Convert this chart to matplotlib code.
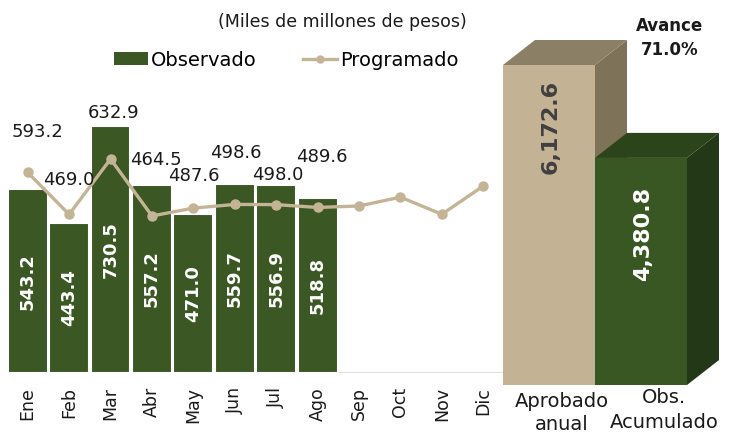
import matplotlib
matplotlib.use("Agg")
import matplotlib.pyplot as plt
from matplotlib.patches import Polygon, Patch
from matplotlib.lines import Line2D

# ===== DATOS =====
MESES = ["Ene", "Feb", "Mar", "Abr", "May", "Jun", "Jul", "Ago", "Sep", "Oct", "Nov", "Dic"]
OBSERVADO = [543.2, 443.4, 730.5, 557.2, 471.0, 559.7, 556.9, 518.8]
PROGRAMADO = [593.2, 469.0, 632.9, 464.5, 487.6, 498.6, 498.0, 489.6, 494.0, 520.0, 469.5, 553.0]
N_ETIQUETAS_PROG = 8  # solo Ene-Ago llevan etiqueta

ACUM_CATS = ["Aprobado\nanual", "Obs.\nAcumulado"]
ACUM_VALORES = [6172.6, 4380.8]
AVANCE = "Avance\n71.0%"

# ===== ESTILO =====
VERDE = "#3A5724"
TAN = "#C4B496"
FONT = "DejaVu Sans"
# desplazamiento (pt) de las etiquetas de la linea
ETQ_DY = [29, 25, 33, 40, 23, 37, 21, 36]
ETQ_DX = [7, 0, 2, 3, 0, 1, 1, 3]

plt.rcParams["font.family"] = FONT

fig = plt.figure(figsize=(7.32, 4.36), dpi=100)
W, H = 732, 436

# ===== GRAFICA MENSUAL =====
ax = fig.add_axes([7 / W, (H - 373) / H, 497 / W, 270.5 / H])
x = list(range(len(MESES)))
ax.bar(x[:len(OBSERVADO)], OBSERVADO, width=0.96, color=VERDE,
       edgecolor="white", linewidth=1.5, zorder=2)
ax.plot(x, PROGRAMADO, color=TAN, linewidth=2.4, marker="o", markersize=6.5, zorder=3)

for i, v in enumerate(OBSERVADO):
    ax.text(i, v / 2, f"{v:,.1f}", rotation=90, ha="center", va="center",
            color="white", fontsize=13, fontweight="bold", zorder=4)

for i in range(N_ETIQUETAS_PROG):
    ax.annotate(f"{PROGRAMADO[i]:,.1f}", (i, PROGRAMADO[i]),
                xytext=(ETQ_DX[i], ETQ_DY[i]), textcoords="offset points",
                ha="center", va="center", fontsize=13, color="#1a1a1a", zorder=5)

ax.set_xlim(-0.5, len(MESES) - 0.5)
ax.set_ylim(0, 800)
ax.set_xticks(x)
ax.set_xticklabels(MESES, rotation=90, fontsize=12.5, color="#1a1a1a")
ax.tick_params(axis="x", length=0, pad=10)
ax.set_yticks([])
for s in ax.spines.values():
    s.set_visible(False)
ax.axhline(0, color="#D9D9D9", linewidth=1.2, zorder=1)

handles = [Patch(facecolor=VERDE, edgecolor="none"),
           Line2D([], [], color=TAN, linewidth=2.4, marker="o", markersize=5)]
fig.legend(handles, ["Observado", "Programado"], loc="center",
           bbox_to_anchor=(286 / W, 1 - 60 / H), ncol=2, frameon=False,
           fontsize=14, handlelength=1.75, handleheight=0.6, handletextpad=0.15,
           columnspacing=2.4)

fig.text(342 / W, 1 - 22 / H, "(Miles de millones de pesos)", ha="center",
         va="center", fontsize=12.5, color="#1a1a1a")

# ===== GRAFICA ACUMULADA 3D =====
px_unidad = 320 / ACUM_VALORES[0]
ax2 = fig.add_axes([495 / W, (H - 385) / H, 237 / W, 385 / H])
ax2.set_xlim(-8 / 92, 229 / 92)
ax2.set_ylim(0, 385 / px_unidad)
ax2.axis("off")

dx = 32 / 92
dy = 25 / px_unidad
colores = [("#C3B394", "#7E7259", "#8B7F66"), ("#385723", "#233816", "#2B4419")]
for i, v in enumerate(ACUM_VALORES):
    frente, lado, tapa = colores[i]
    x0, x1 = i, i + 1
    ax2.add_patch(Polygon([(x1, 0), (x1 + dx, dy), (x1 + dx, v + dy), (x1, v)],
                          closed=True, facecolor=lado, edgecolor="none"))
    ax2.add_patch(Polygon([(x0, v), (x0 + dx, v + dy), (x1 + dx, v + dy), (x1, v)],
                          closed=True, facecolor=tapa, edgecolor="none"))
    ax2.add_patch(Polygon([(x0, 0), (x1, 0), (x1, v), (x0, v)],
                          closed=True, facecolor=frente, edgecolor="none"))

ax2.annotate(f"{ACUM_VALORES[0]:,.1f}", (0.52, ACUM_VALORES[0]), xytext=(0, -11),
             textcoords="offset points", rotation=90, ha="center", va="top",
             fontsize=16, fontweight="bold", color="#404040")
ax2.annotate(f"{ACUM_VALORES[1]:,.1f}", (1.52, ACUM_VALORES[1]), xytext=(0, -21),
             textcoords="offset points", rotation=90, ha="center", va="top",
             fontsize=16, fontweight="bold", color="white")

fig.text(562 / W, 1 - 392 / H, ACUM_CATS[0], ha="center", va="top",
         fontsize=14, color="#1a1a1a", linespacing=1.25)
fig.text(664 / W, 1 - 388 / H, ACUM_CATS[1], ha="center", va="top",
         fontsize=14, color="#1a1a1a", linespacing=1.4)

fig.text(670 / W, 1 - 38 / H, AVANCE, ha="center", va="center",
         fontsize=12, fontweight="bold", color="#1a1a1a", linespacing=1.45)

fig.savefig("out.png", dpi=100)
